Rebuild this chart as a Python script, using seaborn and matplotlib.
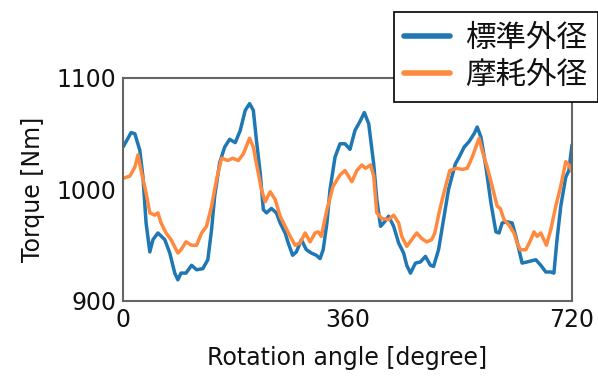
import numpy as np
import pandas as pd
import matplotlib
matplotlib.use('Agg')
import matplotlib.pyplot as plt
import seaborn as sns

# 標準外径 (blue)
std_angle = [0, 13, 19, 27, 32, 37, 43, 48, 56, 67, 75, 83, 88, 93, 101, 110, 118, 128, 136, 142,
             147, 155, 163, 171, 180, 188, 196, 203, 209, 214, 220, 225, 230, 238, 246, 252, 260, 265,
             272, 278, 286, 294, 302, 310, 316, 321, 327, 332, 340, 348, 356, 364, 372, 380, 387, 394,
             402, 407, 413, 418, 426, 434, 442, 450, 455, 461, 469, 477, 485, 493, 498, 506, 514, 522,
             533, 539, 547, 555, 563, 568, 574, 582, 590, 598, 603, 608, 616, 624, 630, 635, 640, 648,
             662, 670, 678, 686, 691, 696, 702, 710, 715, 720]
std_torque = [1038, 1051, 1050, 1035, 1011, 970, 944, 955, 961, 955, 943, 925, 919, 925, 925, 932, 928,
              929, 937, 964, 994, 1024, 1038, 1045, 1042, 1053, 1071, 1077, 1071, 1044, 1015, 982, 979,
              983, 979, 970, 961, 952, 941, 944, 955, 946, 943, 941, 938, 946, 970, 1000, 1029, 1041,
              1041, 1036, 1053, 1061, 1069, 1059, 1023, 991, 967, 970, 976, 967, 952, 943, 932, 925, 934,
              935, 940, 932, 931, 946, 973, 1000, 1023, 1029, 1038, 1043, 1050, 1056, 1047, 1020, 988,
              962, 961, 970, 971, 970, 958, 946, 934, 935, 937, 932, 926, 926, 925, 955, 985, 1011, 1017,
              1040]

# 摩耗外径 (orange)
worn_angle = [0, 11, 19, 24, 29, 37, 43, 51, 56, 61, 69, 77, 88, 93, 101, 110, 118, 126, 134, 142, 150,
              158, 168, 176, 185, 193, 203, 209, 214, 222, 228, 236, 244, 252, 260, 268, 276, 284, 292,
              300, 308, 313, 318, 327, 337, 348, 356, 367, 375, 383, 389, 397, 402, 407, 415, 426, 434,
              442, 447, 455, 463, 471, 479, 487, 495, 500, 508, 516, 524, 535, 544, 552, 560, 571, 576,
              584, 592, 600, 605, 611, 619, 627, 632, 637, 646, 654, 659, 664, 670, 679, 686, 694, 702,
              710, 715, 720]
worn_torque = [1010, 1012, 1020, 1031, 1017, 997, 979, 977, 979, 970, 961, 955, 943, 946, 953, 950, 950,
               961, 967, 985, 1009, 1028, 1026, 1028, 1026, 1032, 1046, 1038, 1023, 1000, 989, 998, 991,
               976, 967, 958, 950, 952, 961, 953, 961, 962, 958, 982, 1003, 1013, 1017, 1007, 1017, 1022,
               1019, 1022, 1012, 979, 974, 973, 977, 970, 958, 949, 955, 961, 956, 953, 955, 961, 982,
               1000, 1017, 1019, 1018, 1019, 1029, 1046, 1035, 1020, 1003, 985, 983, 973, 968, 961, 952,
               946, 946, 955, 962, 958, 961, 950, 964, 985, 1003, 1025, 1022, 1016]

labels = ['標準外径', '摩耗外径']
x_ticks = [0, 360, 720]
y_ticks = [900, 1000, 1100]

df = pd.concat([
    pd.DataFrame({'angle': std_angle, 'torque': std_torque, 'kind': labels[0]}),
    pd.DataFrame({'angle': worn_angle, 'torque': worn_torque, 'kind': labels[1]}),
])

sns.set_style('white')
plt.rcParams['font.family'] = ['DejaVu Sans', 'Noto Sans CJK JP']
plt.rcParams['text.color'] = '#111111'
plt.rcParams['axes.labelcolor'] = '#111111'
plt.rcParams['xtick.color'] = '#111111'
plt.rcParams['ytick.color'] = '#111111'

fig = plt.figure(figsize=(5.98, 3.76), dpi=100)
ax = fig.add_axes([0.2057, 0.1995, 0.7508, 0.5931])

sns.lineplot(data=df, x='angle', y='torque', hue='kind', estimator=None, sort=False,
             palette=['#1f77b4', '#ff8a3d'], linewidth=2.5, ax=ax)

ax.set_xlim(0, 720)
ax.set_ylim(900, 1100)
ax.set_xticks(x_ticks)
ax.set_yticks(y_ticks)
ax.tick_params(length=0, labelsize=17, pad=5)
ax.set_xlabel('Rotation angle [degree]', fontsize=17, labelpad=10)
ax.set_ylabel('Torque [Nm]', fontsize=17, labelpad=8)
for sp in ax.spines.values():
    sp.set_color('#666666')
    sp.set_linewidth(1.5)

leg = ax.legend(loc='upper right', bbox_to_anchor=(1.0, 0.968), bbox_transform=fig.transFigure,
                borderaxespad=0, fancybox=False, edgecolor='black', framealpha=1,
                prop={'family': ['Noto Sans CJK JP'], 'size': 22},
                handlelength=1.5, labelspacing=0.2, borderpad=0.35, handletextpad=0.5)
leg.get_frame().set_linewidth(1.2)
for line in leg.get_lines():
    line.set_linewidth(4)

fig.savefig('out.png', dpi=100)
